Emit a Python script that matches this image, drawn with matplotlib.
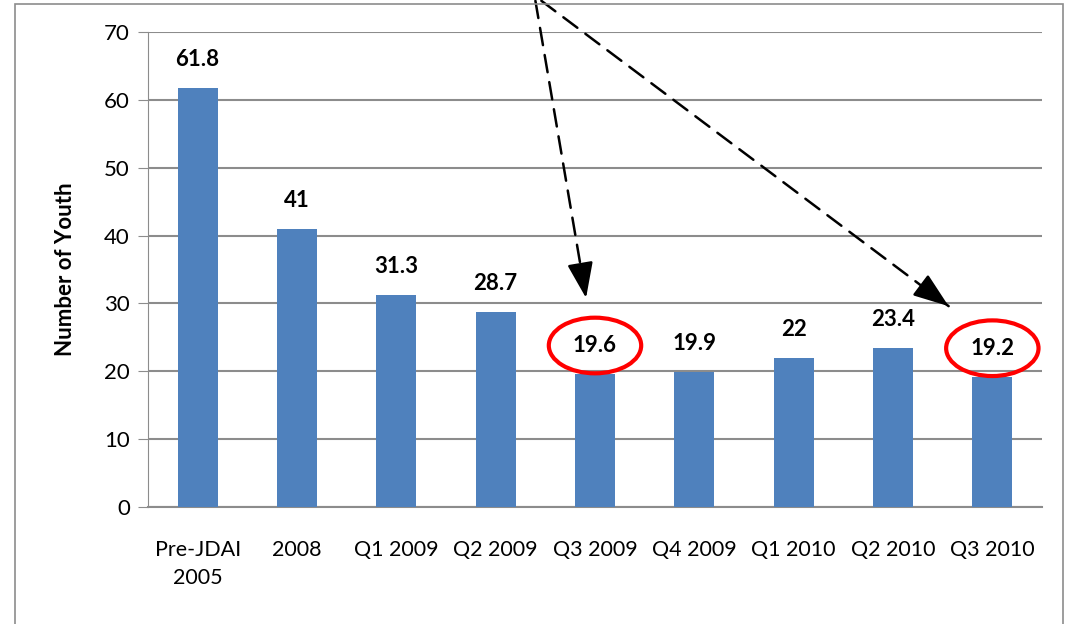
import matplotlib.pyplot as plt
from matplotlib.patches import Ellipse, Rectangle

# data
categories = ["Pre-JDAI\n2005", "2008", "Q1 2009", "Q2 2009", "Q3 2009",
              "Q4 2009", "Q1 2010", "Q2 2010", "Q3 2010"]
youth = [61.8, 41, 31.3, 28.7, 19.6, 19.9, 22, 23.4, 19.2]
value_labels = ["61.8", "41", "31.3", "28.7", "19.6", "19.9", "22", "23.4", "19.2"]
circled = [4, 8]

plt.rcParams['font.family'] = ['Lato', 'DejaVu Sans']

W, H = 1068, 624
fig = plt.figure(figsize=(W / 100, H / 100), dpi=100)

# outer frame around the chart
fig.patches.append(Rectangle((15 / W, -0.05), 1048 / W, 1.05 - 4 / H,
                             transform=fig.transFigure, fill=False,
                             edgecolor="#8c8c8c", linewidth=1.2))

ax = fig.add_axes([148 / W, 117 / H, 894 / W, 475 / H])
x = list(range(len(categories)))
ax.bar(x, youth, width=0.4, color="#4F81BD", zorder=3)

ax.set_xlim(-0.5, len(categories) - 0.5)
ax.set_ylim(0, 70)
ax.set_yticks(range(0, 71, 10))
ax.yaxis.grid(True, color="#8c8c8c", linewidth=1.5, zorder=0)
ax.set_axisbelow(True)

for s in ["top", "right"]:
    ax.spines[s].set_visible(False)
ax.spines["left"].set_color("#8c8c8c")
ax.spines["bottom"].set_color("#8c8c8c")
ax.spines["bottom"].set_linewidth(1.5)

ax.set_xticks(x)
ax.set_xticklabels(categories, fontsize=15.5, linespacing=1.45)
ax.tick_params(axis="x", length=0, pad=24)
ax.tick_params(axis="y", labelsize=16, length=7, color="#8c8c8c", pad=6)
ax.set_ylabel("Number of Youth", fontsize=16, fontweight="bold", labelpad=20)

for i, v in enumerate(youth):
    ax.text(i, v + 4.2, value_labels[i], ha="center", va="center",
            fontsize=16, fontweight="bold")

# red circles around the highlighted values
for i in circled:
    ax.add_patch(Ellipse((i, youth[i] + 4.2), 0.93, 8.2, fill=False,
                         edgecolor="#ff0000", linewidth=3, zorder=5))

# dashed arrows coming from above the plot, with solid heads
starts = [(3.4, 74.6), (3.46, 74.6)]
tips = [(3.91, 30.8), (7.56, 29.6)]
head_frac = [0.06, 0.04]
for start, tip, f in zip(starts, tips, head_frac):
    ax.annotate("", xy=tip, xytext=start, annotation_clip=False,
                arrowprops=dict(arrowstyle="-", linestyle=(0, (7, 4)),
                                color="black", linewidth=1.8,
                                shrinkA=0, shrinkB=0))
    back = (tip[0] - f * (tip[0] - start[0]), tip[1] - f * (tip[1] - start[1]))
    ax.annotate("", xy=tip, xytext=back, annotation_clip=False,
                arrowprops=dict(arrowstyle="-|>,head_length=1.1,head_width=0.4",
                                mutation_scale=20, color="black",
                                linewidth=1.8, shrinkA=0, shrinkB=0))

fig.savefig("out.png", dpi=100)
